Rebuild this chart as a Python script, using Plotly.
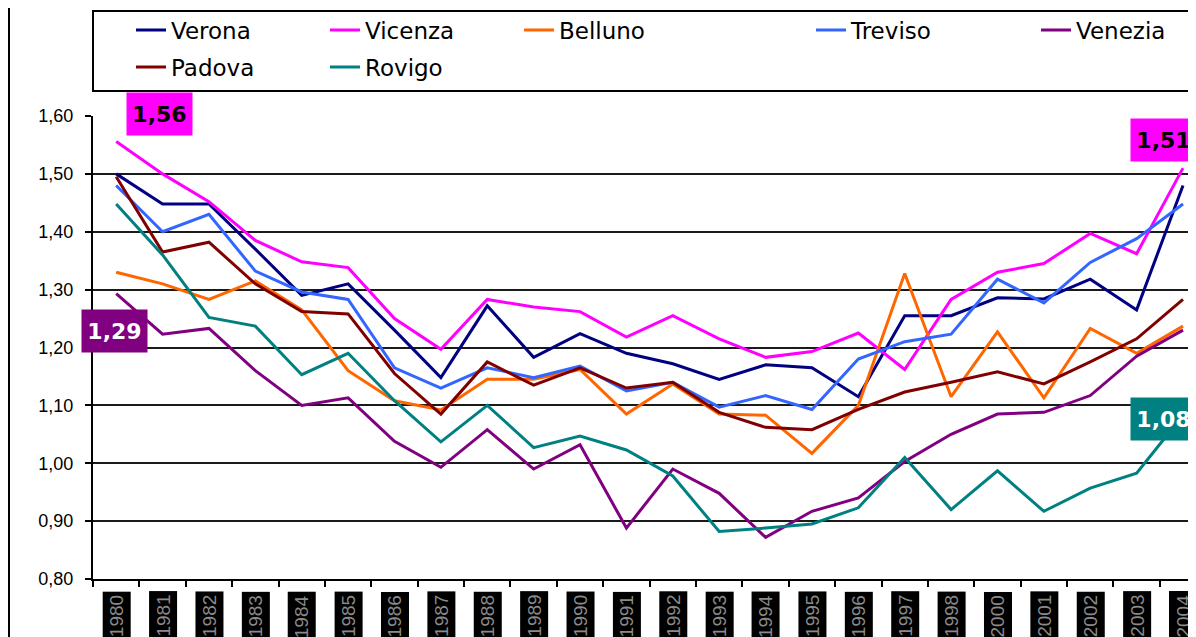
import plotly.graph_objects as go

years = [str(y) for y in list(range(1980, 1999)) + [2000, 2001, 2002, 2003, 2004]]

verona  = [1.500, 1.448, 1.448, 1.370, 1.290, 1.310, 1.230, 1.148, 1.272, 1.183, 1.224, 1.190,
           1.172, 1.145, 1.170, 1.165, 1.115, 1.255, 1.255, 1.286, 1.284, 1.318, 1.265, 1.480]
vicenza = [1.556, 1.500, 1.452, 1.385, 1.348, 1.338, 1.250, 1.197, 1.283, 1.270, 1.262, 1.218,
           1.255, 1.215, 1.183, 1.193, 1.225, 1.162, 1.283, 1.330, 1.345, 1.397, 1.362, 1.510]
belluno = [1.330, 1.310, 1.283, 1.315, 1.265, 1.160, 1.108, 1.092, 1.145, 1.145, 1.162, 1.085,
           1.137, 1.085, 1.083, 1.017, 1.100, 1.328, 1.115, 1.227, 1.113, 1.233, 1.190, 1.237]
treviso = [1.480, 1.400, 1.430, 1.332, 1.296, 1.283, 1.165, 1.130, 1.165, 1.148, 1.168, 1.125,
           1.140, 1.097, 1.117, 1.093, 1.180, 1.210, 1.223, 1.318, 1.277, 1.347, 1.388, 1.448]
venezia = [1.293, 1.223, 1.233, 1.160, 1.100, 1.113, 1.038, 0.993, 1.058, 0.990, 1.032, 0.888,
           0.990, 0.948, 0.872, 0.917, 0.940, 1.003, 1.050, 1.085, 1.088, 1.117, 1.185, 1.230]
padova  = [1.495, 1.365, 1.382, 1.310, 1.262, 1.258, 1.155, 1.085, 1.175, 1.135, 1.165, 1.130,
           1.140, 1.088, 1.062, 1.058, 1.093, 1.123, 1.140, 1.158, 1.137, 1.175, 1.215, 1.283]
rovigo  = [1.448, 1.360, 1.252, 1.237, 1.153, 1.190, 1.108, 1.037, 1.100, 1.027, 1.047, 1.023,
           0.978, 0.882, 0.888, 0.895, 0.923, 1.010, 0.920, 0.987, 0.917, 0.957, 0.983, 1.083]

series = [
    ("Verona", verona, "#000080"),
    ("Vicenza", vicenza, "#FF00FF"),
    ("Belluno", belluno, "#FF6600"),
    ("Treviso", treviso, "#3366FF"),
    ("Venezia", venezia, "#800080"),
    ("Padova", padova, "#800000"),
    ("Rovigo", rovigo, "#008080"),
]

# page offset of the figure (body margin)
OFF = 8
# legend text start (page px) and row centre (page px)
legend_pos = [(173, 30), (367, 30), (561, 30), (853, 30), (1078, 30), (173, 67), (367, 67)]

FW, FH = 1196 - OFF, 637 - OFF
L, T, W, H = 93 - OFF, 116 - OFF, 1103, 463

def px2x(p):
    return (p - OFF - L) / W

def py2y(p):
    return 1 + (T - (p - OFF)) / H

fig = go.Figure()
layout_legends = {}
for i, (name, vals, col) in enumerate(series):
    key = "legend" if i == 0 else f"legend{i+1}"
    fig.add_trace(go.Scatter(x=years, y=vals, name=name, mode="lines",
                             line=dict(color=col, width=3), legend=key))
    tx, ty = legend_pos[i]
    layout_legends[key] = dict(
        x=px2x(tx - 42), y=py2y(ty), xanchor="left", yanchor="middle",
        bgcolor="rgba(0,0,0,0)", borderwidth=0,
        font=dict(family="DejaVu Sans", size=23, color="#000000"),
    )

def lab(v):
    return f"{v:.2f}".replace(".", ",")

annotations = []
# data labels (x given as category index)
dl = [
    (0, vicenza[0], "#FF00FF", "#000000", 43, 27),
    (len(years) - 1, vicenza[-1], "#FF00FF", "#000000", -20, 28),
    (0, venezia[0], "#800080", "#FFFFFF", -2, -37),
    (len(years) - 1, rovigo[-1], "#008080", "#FFFFFF", -20, -4),
]
for x, y, bg, fc, xs, ys in dl:
    annotations.append(dict(x=x, y=y, xref="x", yref="y", text=lab(y), showarrow=False,
                            bgcolor=bg, borderpad=6, width=53, height=30,
                            xshift=xs, yshift=ys,
                            font=dict(family="DejaVu Sans", size=22, color=fc, weight="bold")))
# year labels
for i, yr in enumerate(years):
    annotations.append(dict(x=i, y=0, xref="x", yref="paper", text=yr, showarrow=False,
                            textangle=-90, yanchor="top", yshift=-12, bgcolor="#000000",
                            borderpad=3,
                            font=dict(family="Liberation Sans", size=19, color="#8a8a8a")))

shapes = [
    dict(type="rect", xref="paper", yref="paper", x0=0, x1=1.05, y0=py2y(91), y1=py2y(11),
         line=dict(color="#000000", width=2), fillcolor="rgba(0,0,0,0)", layer="above"),
    dict(type="line", xref="paper", yref="paper", x0=px2x(9), x1=px2x(9), y0=-0.5, y1=1.5,
         line=dict(color="#000000", width=2)),
]

fig.update_layout(
    width=FW, height=FH,
    margin=dict(l=L, r=FW - L - W, t=T, b=FH - T - H, pad=0, autoexpand=False),
    paper_bgcolor="#FFFFFF", plot_bgcolor="#FFFFFF",
    separators=",.",
    showlegend=True,
    annotations=annotations,
    shapes=shapes,
    xaxis=dict(type="category", range=[-0.5, 23.28], showticklabels=False,
               ticks="outside", tickson="boundaries", ticklen=6, tickwidth=2,
               tickcolor="#000000", showgrid=False, showline=True, linecolor="#000000",
               linewidth=2, zeroline=False, automargin=False),
    yaxis=dict(range=[0.8, 1.6], dtick=0.1, tick0=0.8, tickformat=".2f",
               ticks="outside", ticklen=6, tickwidth=2, tickcolor="#000000",
               ticklabelstandoff=8, automargin=False,
               showgrid=True, gridcolor="#1a1a1a", gridwidth=2,
               showline=True, linecolor="#000000", linewidth=2, zeroline=False,
               tickfont=dict(family="Liberation Sans", size=18, color="#000000")),
    **layout_legends,
)

fig.write_html("out.html")
